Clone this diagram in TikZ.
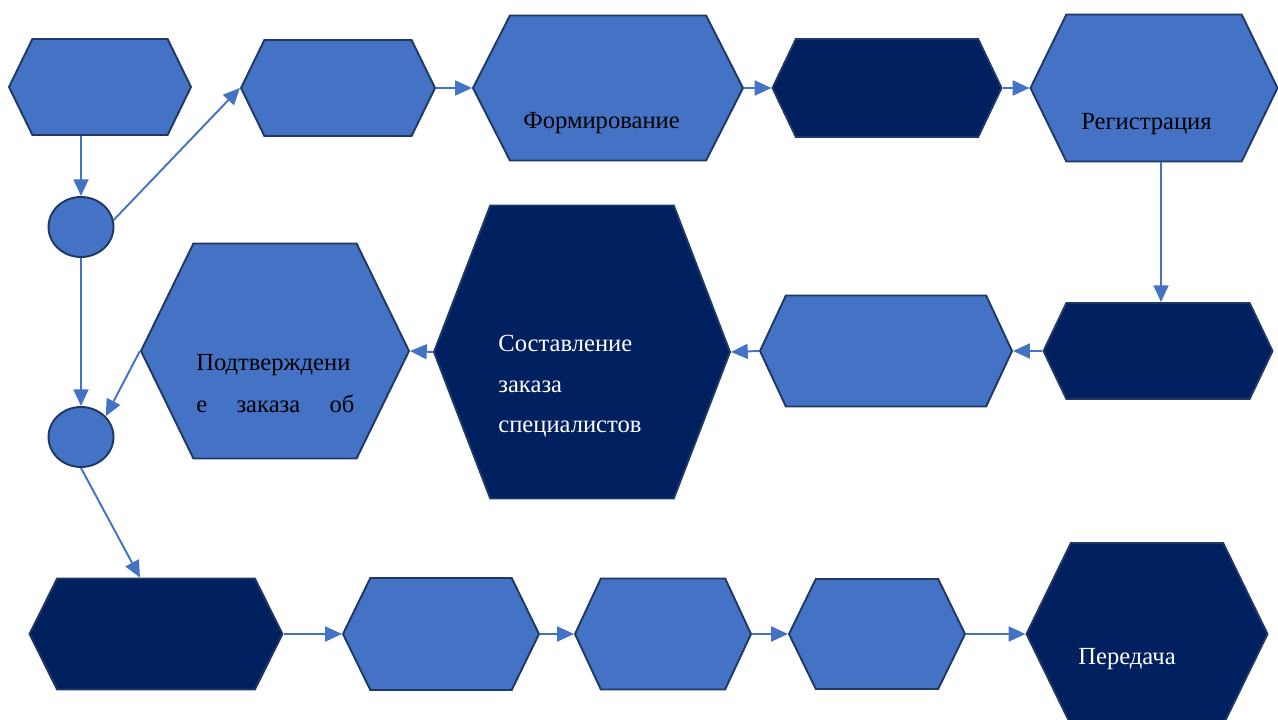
\documentclass[tikz,border=0pt]{standalone}
\usepackage{fontspec}
\setmainfont{Liberation Serif}
\usetikzlibrary{shapes.symbols}
\usetikzlibrary{shapes.geometric}
\usetikzlibrary{arrows.meta}
\definecolor{lightfill}{RGB}{68,114,196}
\definecolor{darkfill}{RGB}{0,32,96}
\definecolor{edgecol}{RGB}{32,56,100}
\definecolor{arrowcol}{RGB}{68,114,196}
\newdimen\pxu \pxu=0.02cm

\begin{document}
\begin{tikzpicture}[x=0.02cm,y=-0.02cm,
    hex/.style n args={3}{signal, signal to=east and west, signal pointer angle=#3,
        minimum width=#1\pxu, minimum height=#2\pxu, inner sep=0pt,
        draw=edgecol, line width=1.1pt},
    light/.style={fill=lightfill},
    dark/.style={fill=darkfill},
    dot/.style={ellipse, draw=edgecol, fill=lightfill, line width=1.1pt,
        minimum width=65\pxu, minimum height=60\pxu, inner sep=0pt},
    flow/.style={draw=arrowcol, line width=1.1pt, -{Triangle[length=9.5pt,width=8.5pt]}},
    btext/.style={font=\fontsize{14}{24}\selectfont, text=black, inner sep=0pt},
    wtext/.style={font=\fontsize{14}{23}\selectfont, text=white, inner sep=0pt}]
    \useasboundingbox (0,0) rectangle (1278,720);

    % top row
    \node[hex={182}{96}{128}, light] (h1) at (100,87) {};
    \node[hex={194}{96}{128}, light] (h2) at (338,88) {};
    \node[hex={270}{145}{126}, light] (h3) at (608,88) {};
    \node[hex={229}{98}{129}, dark] (h4) at (887,88) {};
    \node[hex={247}{147}{128}, light] (h5) at (1154,88) {};
    \node[btext, anchor=base west] (t3) at (523,128) {Формирование};
    \node[btext, anchor=base west] (t5) at (1081,129) {Регистрация};

    % middle row, going back to the left
    \node[hex={229}{96}{129}, dark] (h6) at (1158,351) {};
    \node[hex={252}{111}{130}, light] (h7) at (886,351) {};
    \node[hex={296}{293}{138}, dark] (h8) at (582,352) {};
    \node[hex={268}{215}{128}, light] (h9) at (275,351) {};
    \node[wtext, align=left, anchor=north west] (t8) at (498,335)
        {Составление\\заказа\\специалистов};
    \node[btext, align=left, anchor=north west] (t9) at (196,354)
        {Подтверждени\\\makebox[158\pxu][s]{е\hfill заказа\hfill об}};

    % the two decision points
    \node[dot] (c1) at (81,227) {};
    \node[dot] (c2) at (81,437) {};

    % bottom row
    \node[hex={253}{111}{127}, dark] (h11) at (156,634) {};
    \node[hex={196}{112}{128}, light] (h12) at (441,634) {};
    \node[hex={176}{111}{130}, light] (h13) at (663,634) {};
    \node[hex={176}{110}{128}, light] (h14) at (877,634) {};
    \node[hex={241}{182}{128}, dark] (h10) at (1147,634) {};
    \node[wtext, anchor=base west] (t10) at (1078,664) {Передача};

    % connectors
    \draw[flow] (c1.north |- h1.south) -- (c1.north);
    \draw[flow] (c1.12) -- (h2.west);
    \draw[flow] (h2.east) -- (h3.west);
    \draw[flow] (h3.east) -- (h4.west);
    \draw[flow] (h4.east) -- (h5.west);
    \draw[flow] ([xshift=3\pxu]h6.north |- h5.south) -- ([xshift=3\pxu]h6.north);
    \draw[flow] (h6.west) -- (h7.east);
    \draw[flow] (h7.west) -- (h8.east);
    \draw[flow] (h8.west) -- (h9.east);
    \draw[flow] (h9.west) -- (c2.40);
    \draw[flow] (c1.south) -- (c2.north);
    \draw[flow] (c2.south) -- ([xshift=-16\pxu]h11.north);
    \draw[flow] (h11.east) -- (h12.west);
    \draw[flow] (h12.east) -- (h13.west);
    \draw[flow] (h13.east) -- (h14.west);
    \draw[flow] (h14.east) -- (h10.west);
\end{tikzpicture}
\end{document}
